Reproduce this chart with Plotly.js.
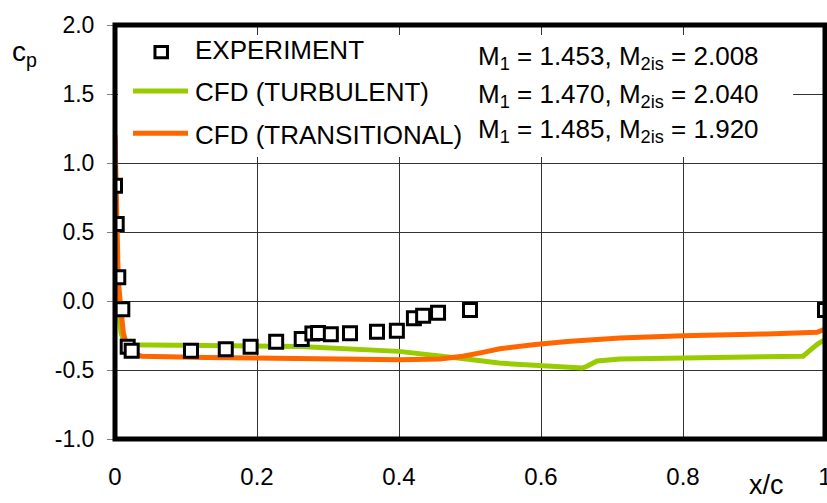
<!DOCTYPE html>
<html>
<head>
<meta charset="utf-8">
<script src="https://cdn.plot.ly/plotly-3.0.1.min.js"></script>
<style>html,body{margin:0;padding:0;background:#fff;}#chart{width:827px;height:503px;}</style>
</head>
<body>
<div id="chart"></div>
<script>
// Experiment (squares)
var expX = [0.0, 0.0024, 0.0046, 0.0103, 0.0179, 0.0235, 0.107, 0.156, 0.191, 0.227, 0.263, 0.278, 0.286, 0.304, 0.331, 0.369, 0.397, 0.421, 0.434, 0.455, 0.500, 1.0];
var expY = [0.835, 0.558, 0.172, -0.060, -0.331, -0.360, -0.360, -0.350, -0.331, -0.295, -0.275, -0.236, -0.232, -0.241, -0.234, -0.222, -0.215, -0.125, -0.107, -0.085, -0.065, -0.065];

// CFD turbulent (green)
var turbX = [0.0, 0.0003, 0.0008, 0.0046, 0.0085, 0.014, 0.07, 0.26, 0.40, 0.429, 0.495, 0.541, 0.599, 0.658, 0.664, 0.679, 0.711, 0.80, 0.96, 0.969, 0.983, 0.99, 1.0];
var turbY = [1.15, 0.75, 0.35, -0.04, -0.23, -0.317, -0.32, -0.33, -0.365, -0.38, -0.42, -0.45, -0.47, -0.486, -0.475, -0.435, -0.42, -0.415, -0.406, -0.40, -0.34, -0.31, -0.28];

// CFD transitional (orange)
var tranX = [0.0, 0.0024, 0.0046, 0.008, 0.0117, 0.0187, 0.0376, 0.1268, 0.20, 0.30, 0.401, 0.458, 0.49, 0.518, 0.542, 0.589, 0.637, 0.711, 0.80, 0.918, 0.989, 1.0];
var tranY = [1.203, 0.60, 0.15, -0.04, -0.23, -0.37, -0.40, -0.41, -0.415, -0.42, -0.425, -0.42, -0.40, -0.372, -0.346, -0.317, -0.293, -0.268, -0.251, -0.239, -0.227, -0.203];

var xTickVals = [0, 0.2, 0.4, 0.6, 0.8, 1];
var xTickText = ["0", "0.2", "0.4", "0.6", "0.8", "1"];
var yTickVals = [-1, -0.5, 0, 0.5, 1, 1.5, 2];
var yTickText = ["-1.0", "-0.5", "0.0", "0.5", "1.0", "1.5", "2.0"];

var legendNames = ["EXPERIMENT", "CFD (TURBULENT)", "CFD (TRANSITIONAL)"];
var machTexts = [
  "M<sub>1</sub> = 1.453, M<sub>2is</sub> = 2.008",
  "M<sub>1</sub> = 1.470, M<sub>2is</sub> = 2.040",
  "M<sub>1</sub> = 1.485, M<sub>2is</sub> = 1.920"
];

var FONT = "Liberation Sans, Arial, sans-serif";
var GREEN = "#99CC00", ORANGE = "#FF6600";

var traces = [
  {x: turbX, y: turbY, mode: "lines", name: legendNames[1],
   line: {color: GREEN, width: 5}},
  {x: tranX, y: tranY, mode: "lines", name: legendNames[2],
   line: {color: ORANGE, width: 5}},
  {x: expX, y: expY, mode: "markers", name: legendNames[0],
   marker: {symbol: "square", size: 13, color: "#ffffff", line: {color: "#000000", width: 3}}}
];

var legY = [0.9396, 0.837, 0.7343];
var annotations = [];
for (var i = 0; i < legendNames.length; i++) {
  annotations.push({xref: "paper", yref: "paper", x: 0.1099, y: legY[i], xanchor: "left", yanchor: "middle",
    text: legendNames[i], showarrow: false, font: {family: FONT, size: 26, color: "#000"}});
}
var machY = [0.921, 0.829, 0.744];
for (var j = 0; j < machTexts.length; j++) {
  annotations.push({xref: "paper", yref: "paper", x: 0.5085, y: machY[j], xanchor: "left", yanchor: "middle",
    text: machTexts[j], showarrow: false, font: {family: FONT, size: 26, color: "#000"}});
}
annotations.push({xref: "paper", yref: "paper", x: -0.148, y: 0.93, xanchor: "left", yanchor: "middle",
  text: "c<sub>p</sub>", showarrow: false, font: {family: FONT, size: 28, color: "#000"}});
annotations.push({xref: "paper", yref: "paper", x: 0.917, y: -0.152, xanchor: "center", yanchor: "bottom",
  text: "x/c", showarrow: false, font: {family: FONT, size: 27, color: "#000"}});

var shapes = [
  // white legend box hiding the gridlines
  {type: "rect", xref: "paper", yref: "paper", x0: 0.0042, x1: 0.955, y0: 0.681, y1: 0.976,
   fillcolor: "#ffffff", line: {width: 0}, layer: "above"},
  // legend symbols
  {type: "rect", xref: "paper", yref: "paper", x0: 0.0563, x1: 0.0739, y0: 0.9208, y1: 0.9481,
   fillcolor: "#ffffff", line: {color: "#000", width: 3}, layer: "above"},
  {type: "line", xref: "paper", yref: "paper", x0: 0.0254, x1: 0.1028, y0: 0.8406, y1: 0.8406,
   line: {color: GREEN, width: 5}, layer: "above"},
  {type: "line", xref: "paper", yref: "paper", x0: 0.0254, x1: 0.1028, y0: 0.7384, y1: 0.7384,
   line: {color: ORANGE, width: 5}, layer: "above"},
  // thick plot frame
  {type: "rect", xref: "paper", yref: "paper", x0: 0, x1: 1, y0: 0, y1: 1,
   line: {color: "#000", width: 5}, fillcolor: "rgba(0,0,0,0)", layer: "above"}
];

var layout = {
  width: 827, height: 503,
  margin: {l: 115, r: 2, t: 25, b: 64, pad: 0},
  paper_bgcolor: "#ffffff", plot_bgcolor: "#ffffff",
  showlegend: false,
  font: {family: FONT, color: "#000"},
  xaxis: {range: [0, 1], tickvals: xTickVals, ticktext: xTickText, showgrid: true,
    gridcolor: "#333333", gridwidth: 1, zeroline: false, showline: false, ticks: "",
    ticklabeloverflow: "allow",
    ticklabelstandoff: 21, tickfont: {family: FONT, size: 24, color: "#000"}, fixedrange: true},
  yaxis: {range: [-1, 2], tickvals: yTickVals, ticktext: yTickText, showgrid: true,
    gridcolor: "#333333", gridwidth: 1, zeroline: false, showline: false, ticks: "outside",
    ticklen: 7, tickwidth: 1, tickcolor: "#808080", ticklabelstandoff: 8,
    tickfont: {family: FONT, size: 23, color: "#000"}, fixedrange: true},
  shapes: shapes,
  annotations: annotations
};

Plotly.newPlot("chart", traces, layout, {displayModeBar: false, staticPlot: true});
</script>
</body>
</html>
